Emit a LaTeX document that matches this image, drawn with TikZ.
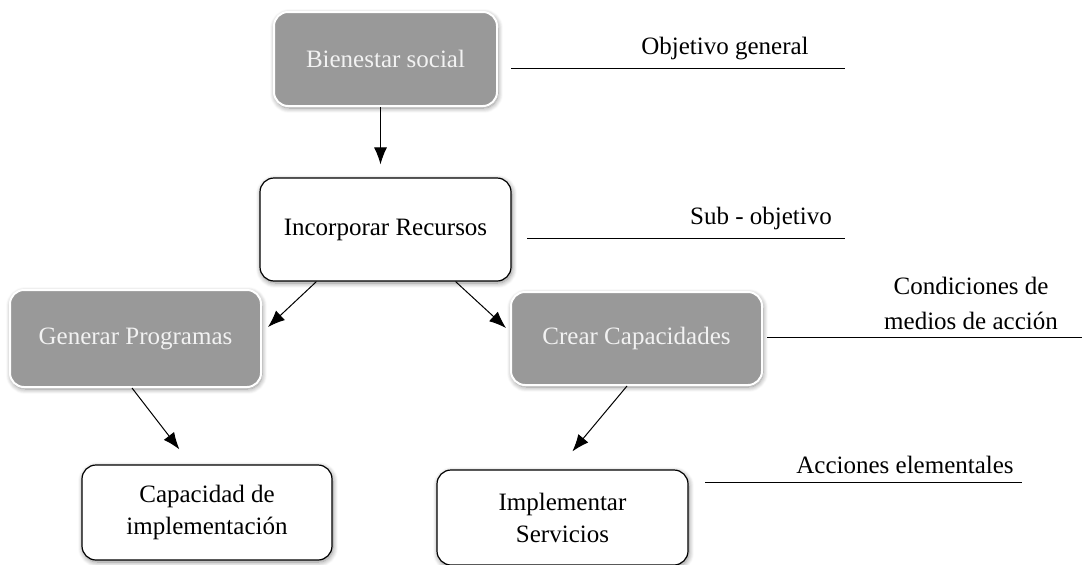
\documentclass[tikz,border=0pt]{standalone}
\usepackage{fontspec}
\setmainfont{Liberation Serif}
\usetikzlibrary{calc,arrows.meta,shadows.blur}
\definecolor{boxgray}{HTML}{999999}
\definecolor{boxtext}{HTML}{F2F2F2}
\tikzset{
  base/.style={rounded corners=14pt, minimum width=251pt, align=center,
    font=\fontsize{25}{32}\selectfont,
    blur shadow={shadow xshift=1pt, shadow yshift=-2pt, shadow blur radius=5pt, shadow blur steps=10, shadow opacity=45}},
  graybox/.style={base, fill=boxgray, draw=white, line width=2pt, text=boxtext},
  whitebox/.style={base, fill=white, draw=black, line width=1.2pt},
  arr/.style={-{Latex[length=17pt,width=13pt]}, line width=1pt},
  level/.style={font=\fontsize{25}{35}\selectfont, align=center},
  rule/.style={line width=1pt}
}
\begin{document}
\begin{tikzpicture}[x=1pt,y=-1pt]
  \useasboundingbox (0,0) rectangle (1082,565);

  % goal hierarchy
  \node[graybox, minimum width=223pt, minimum height=94pt] (bien) at (385.5,59) {Bienestar social};
  \node[whitebox, minimum height=103pt] (inc) at (385.5,229.5) {Incorporar Recursos};
  \node[graybox, minimum height=97pt] (gen) at (135.5,338.5) {Generar Programas};
  \node[graybox, minimum height=93pt] (crear) at (636.5,338.5) {Crear Capacidades};
  \node[whitebox, minimum width=250pt, minimum height=95pt] (cap) at (207,512.5) {Capacidad de\\implementación};
  \node[whitebox, minimum height=95pt] (impl) at (562.5,517.5) {Implementar\\Servicios};

  % connectors
  \draw[arr] ($(bien.south)+(-5,0)$) -- ($(inc.north)+(-5,-13)$);
  \draw[arr] ($(inc.south west)+(57,0)$) -- ($(gen.north east)+(6,38)$);
  \draw[arr] ($(inc.south east)+(-56,0)$) -- ($(crear.north west)+(-4,37)$);
  \draw[arr] ($(gen.south west)+(123,0)$) -- ($(cap.north west)+(98,-15)$);
  \draw[arr] ($(crear.south west)+(117,0)$) -- ($(impl.north west)+(136,-18)$);

  % level labels and their rules
  \coordinate (r1a) at (511,68);  \coordinate (r1b) at (845,68);
  \coordinate (r2a) at (527,238); \coordinate (r2b) at (845,238);
  \coordinate (r3a) at (767,337); \coordinate (r3b) at (1082,337);
  \coordinate (r4a) at (705,482); \coordinate (r4b) at (1022,482);
  \draw[rule] (r1a) -- (r1b);
  \draw[rule] (r2a) -- (r2b);
  \draw[rule] (r3a) -- (r3b);
  \draw[rule] (r4a) -- (r4b);
  \node[level] (l1) at (725,49) {Objetivo general};
  \node[level] (l2) at (761,218) {Sub - objetivo};
  \node[level] (l3) at (971,303) {Condiciones de\\medios de acción};
  \node[level] (l4) at (905,465) {Acciones elementales};
\end{tikzpicture}
\end{document}
